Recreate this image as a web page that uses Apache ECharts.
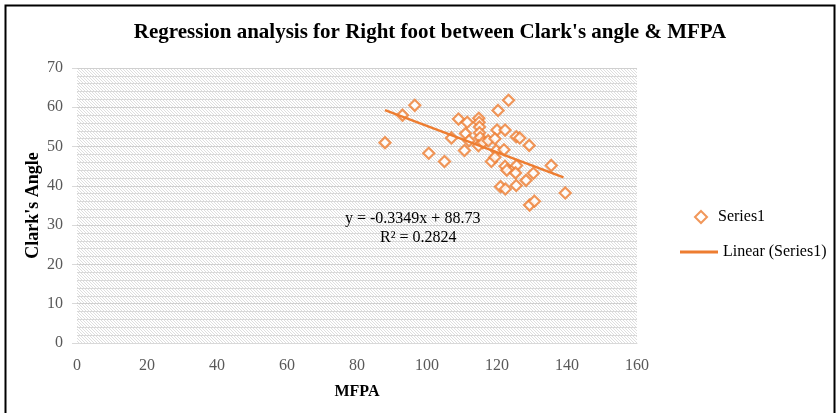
<!DOCTYPE html>
<html>
<head>
<meta charset="utf-8">
<script src="https://cdn.jsdelivr.net/npm/echarts@6/dist/echarts.min.js"></script>
<style>html,body{margin:0;padding:0;background:#fff;}#c{width:836px;height:413px;}</style>
</head>
<body>
<div id="c"></div>
<script>
var mfpa = [88,93,96.5,100.5,105,107,109,110.7,111.5,111,112,114.8,114.9,115,115,115.2,114.7,116,117.5,120.3,120,119.4,119.8,118.4,119.4,122,122.3,123.3,122.3,122.8,125.5,126.5,125.6,125.3,128.3,130.4,129.2,121,122.4,125.5,135.5,139.5,129.3,130.7];
var clark = [51,58,60.5,48.3,46.2,52.2,57,49,56.2,53.3,51.5,57.2,56.2,55,53.5,52.3,50.2,51,51.5,59.2,54.2,52,49,46.2,47.3,49.2,54.2,61.8,45,44,52.5,52.2,45.2,43.3,41.4,43.2,50.3,39.8,39.2,40.1,45.2,38.2,35.1,36.1];
var trendSlope = -0.3349, trendIntercept = 88.73;
var trendX = [88, 139];
var xTicks = [0,20,40,60,80,100,120,140,160];
var yTicks = [0,10,20,30,40,50,60,70];

var pts = mfpa.map(function(x,i){return [x, clark[i]];});
var trend = trendX.map(function(x){return [x, trendSlope*x + trendIntercept];});

var cv = document.createElement('canvas');
cv.width = 3; cv.height = 3;
var cx = cv.getContext('2d');
cx.fillStyle = '#ffffff'; cx.fillRect(0,0,3,3);
cx.fillStyle = '#dedede';
cx.fillRect(0,0,1,1); cx.fillRect(1,1,1,1); cx.fillRect(2,2,1,1);

var serif = '"Liberation Serif","DejaVu Serif",serif';
var chart = echarts.init(document.getElementById('c'), null, {renderer:'canvas'});
chart.setOption({
  animation: false,
  backgroundColor: '#fff',
  title: {
    text: "Regression analysis for Right foot between Clark's angle & MFPA",
    left: 425, top: 17, textAlign: 'center',
    textStyle: {fontFamily: serif, fontWeight: 'bold', fontSize: 21, color: '#000'}
  },
  grid: {left: 77, right: 199, top: 68, bottom: 70, show: true, borderWidth: 0,
    backgroundColor: {image: cv, repeat: 'repeat'}},
  legend: [
    {
      orient: 'vertical', left: 689, top: 204, itemWidth: 12, itemHeight: 12, itemGap: 8,
      textStyle: {fontFamily: serif, fontSize: 16, color: '#000', padding: [0,0,0,6]},
      data: [{name: 'Series1'}]
    },
    {
      orient: 'vertical', left: 675, top: 239, itemWidth: 38, itemHeight: 3, itemGap: 2,
      textStyle: {fontFamily: serif, fontSize: 16, color: '#000'},
      data: [{name: 'Linear (Series1)', icon: 'rect'}]
    }
  ],
  xAxis: {
    type: 'value', min: 0, max: 160, interval: 20,
    name: 'MFPA', nameLocation: 'middle', nameGap: 41,
    nameTextStyle: {fontFamily: serif, fontWeight: 'bold', fontSize: 16, color: '#000'},
    axisLine: {show: true, lineStyle: {color: '#d9d9d9'}},
    axisTick: {show: false},
    splitLine: {show: false},
    axisLabel: {fontFamily: serif, fontSize: 16, color: '#595959', margin: 15,
      formatter: function(v){ return xTicks.indexOf(v) >= 0 ? String(v) : ''; }}
  },
  yAxis: {
    type: 'value', min: 0, max: 70, interval: 10,
    name: "Clark's Angle", nameLocation: 'middle', nameGap: 35, nameMoveOverlap: false,
    nameTextStyle: {fontFamily: serif, fontWeight: 'bold', fontSize: 18, color: '#000'},
    axisLine: {show: false},
    axisTick: {show: true, length: 5, lineStyle: {color: '#d9d9d9'}},
    splitLine: {show: true, lineStyle: {color: '#d0d0d0', width: 1}},
    minorTick: {show: false, splitNumber: 5},
    minorSplitLine: {show: true, lineStyle: {color: '#d9d9d9', width: 1}},
    axisLabel: {fontFamily: serif, fontSize: 16, color: '#595959', margin: 14,
      formatter: function(v){ return yTicks.indexOf(v) >= 0 ? String(v) : ''; }}
  },
  series: [
    {
      name: 'Series1', type: 'scatter', data: pts, symbol: 'diamond', symbolSize: 11,
      itemStyle: {color: '#ffffff', borderColor: '#ED7D31', borderWidth: 2.2}, z: 3
    },
    {
      name: 'Linear (Series1)', type: 'line', data: trend, symbol: 'none',
      lineStyle: {color: '#ED7D31', width: 2.5}, itemStyle: {color: '#ED7D31'}, z: 4
    }
  ],
  graphic: [
    {type: 'rect', left: 3, top: 3, shape: {width: 829, height: 420},
      style: {fill: 'none', stroke: '#000', lineWidth: 2}, silent: true, z: 100},
    {type: 'text', left: 345, top: 211, style: {text: 'y = -0.3349x + 88.73', font: '16px ' + serif, fill: '#000'}, z: 50},
    {type: 'text', left: 380, top: 230, style: {text: 'R\u00b2 = 0.2824', font: '16px ' + serif, fill: '#000'}, z: 50}
  ]
});
</script>
</body>
</html>
